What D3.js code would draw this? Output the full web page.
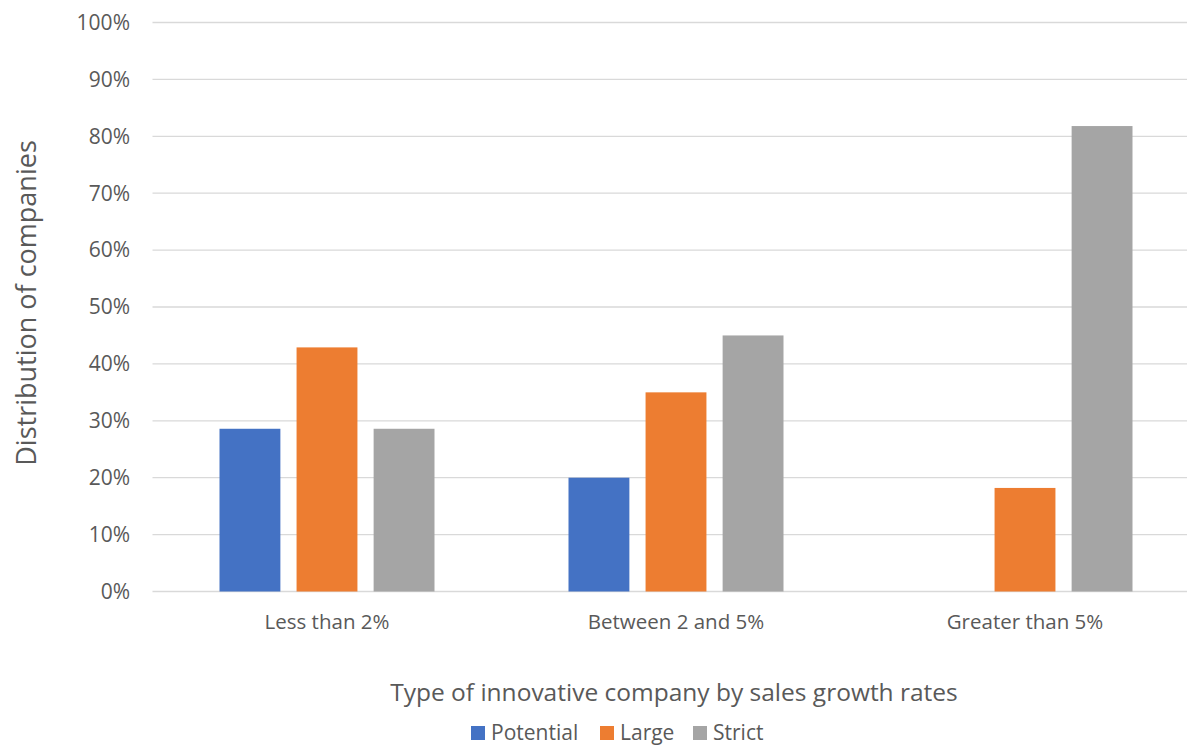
<!DOCTYPE html>
<html>
<head>
<meta charset="utf-8">
<script src="https://cdn.jsdelivr.net/npm/d3@7"></script>
<style>
  body { margin: 0; background: #fff; }
  text { font-family: "Open Sans", sans-serif; fill: #595959; }
</style>
</head>
<body>
<svg id="chart" width="1187" height="746"></svg>
<script>
// data
const categories = ["Less than 2%", "Between 2 and 5%", "Greater than 5%"];
const seriesNames = ["Potential", "Large", "Strict"];
const potential = [0.286, 0.20, 0];
const large = [0.429, 0.35, 0.182];
const strict = [0.286, 0.45, 0.818];
const yTicks = [0, 0.1, 0.2, 0.3, 0.4, 0.5, 0.6, 0.7, 0.8, 0.9, 1];

const colors = ["#4472c4", "#ed7d31", "#a5a5a5"];
const values = [potential, large, strict];

const svg = d3.select("#chart");
const width = 1187, height = 746;

// plot area
const plotLeft = 152.5, plotRight = 1199.5, plotTop = 22.5, plotBottom = 591.5;

const x0 = d3.scaleBand().domain(categories).range([plotLeft, plotRight]).paddingInner(0).paddingOuter(0);
const x1 = d3.scaleBand().domain(seriesNames).range([67, x0.bandwidth() - 67]).paddingInner(0.21);
const y = d3.scaleLinear().domain([0, 1]).range([plotBottom, plotTop]);

// gridlines
svg.append("g")
  .selectAll("line")
  .data(yTicks)
  .join("line")
  .attr("x1", plotLeft).attr("x2", width)
  .attr("y1", d => y(d)).attr("y2", d => y(d))
  .attr("stroke", "#d9d9d9")
  .attr("stroke-width", 1.3);

// y tick labels
svg.append("g")
  .selectAll("text")
  .data(yTicks)
  .join("text")
  .attr("x", 130)
  .attr("y", d => y(d))
  .attr("dy", "0.35em")
  .attr("text-anchor", "end")
  .style("font-size", "21px")
  .text(d3.format(".0%"));

// bars
const groups = svg.append("g")
  .selectAll("g")
  .data(categories)
  .join("g")
  .attr("transform", d => `translate(${x0(d)},0)`);

groups.selectAll("rect")
  .data((c, i) => seriesNames.map((s, j) => ({ s, v: values[j][i], j })))
  .join("rect")
  .attr("x", d => x1(d.s))
  .attr("width", x1.bandwidth())
  .attr("y", d => y(d.v))
  .attr("height", d => plotBottom - y(d.v))
  .attr("fill", d => colors[d.j]);

// category labels
svg.append("g")
  .selectAll("text")
  .data(categories)
  .join("text")
  .attr("x", d => x0(d) + x0.bandwidth() / 2)
  .attr("y", 622)
  .attr("dy", "0.35em")
  .attr("text-anchor", "middle")
  .style("font-size", "20.5px")
  .text(d => d);

// axis titles
svg.append("text")
  .attr("x", 674)
  .attr("y", 692)
  .attr("dy", "0.35em")
  .attr("text-anchor", "middle")
  .style("font-size", "24.5px")
  .text("Type of innovative company by sales growth rates");

svg.append("text")
  .attr("transform", "translate(27,303) rotate(-90)")
  .attr("dy", "0.35em")
  .attr("text-anchor", "middle")
  .style("font-size", "27px")
  .text("Distribution of companies");

// legend
const legendX = [471, 600, 693];
const legend = svg.append("g")
  .selectAll("g")
  .data(seriesNames)
  .join("g")
  .attr("transform", (d, i) => `translate(${legendX[i]},733)`);

legend.append("rect")
  .attr("x", 0).attr("y", -7)
  .attr("width", 14).attr("height", 14)
  .attr("fill", (d, i) => colors[i]);

legend.append("text")
  .attr("x", 20)
  .attr("dy", "0.35em")
  .style("font-size", "21px")
  .text(d => d);
</script>
</body>
</html>
